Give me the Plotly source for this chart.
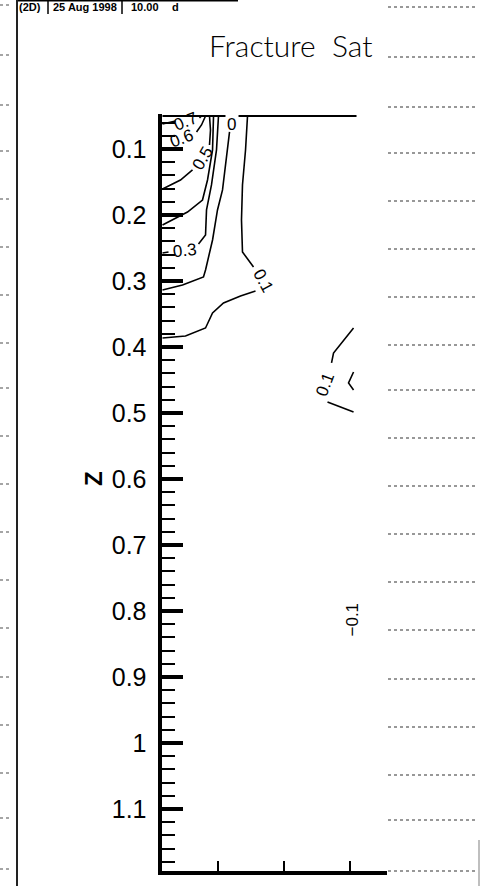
import plotly.graph_objects as go

W, H = 481, 886

# ---------------- data ----------------
y_tick_vals = [0.1, 0.2, 0.3, 0.4, 0.5, 0.6, 0.7, 0.8, 0.9, 1.0, 1.1]
y_tick_text = ["0.1", "0.2", "0.3", "0.4", "0.5", "0.6", "0.7", "0.8", "0.9", "1", "1.1"]
x_tick_vals = [0.1, 0.2, 0.3]

# upper boundary of the contoured region (gap where the "0" label sits)
top_a_x = [0.0165, 0.1118]
top_a_y = [0.05, 0.05]
top_b_x = [0.1315, 0.3100]
top_b_y = [0.05, 0.05]

# level 0.7
c07a_x = [0.0165, 0.0362]
c07a_y = [0.0621, 0.0576]
c07b_x = [0.0725, 0.0755]
c07b_y = [0.0530, 0.0500]

# level 0.6
c06_x = [0.0680, 0.0755, 0.0816]
c06_y = [0.0742, 0.0636, 0.0500]

# level 0.5
c05a_x = [0.0876, 0.0891, 0.0876]
c05a_y = [0.0500, 0.0712, 0.0939]
c05b_x = [0.0619, 0.0437, 0.0256, 0.0165]
c05b_y = [0.1318, 0.1470, 0.1561, 0.1606]

# level 0.4
c04_x = [0.0937, 0.0922, 0.0846, 0.0770, 0.0543, 0.0210, 0.0165]
c04_y = [0.0500, 0.1015, 0.1470, 0.1773, 0.1955, 0.2136, 0.2152]

# level 0.3
c03a_x = [0.1012, 0.0982, 0.0906, 0.0831, 0.0816, 0.0710]
c03a_y = [0.0500, 0.1015, 0.1545, 0.1924, 0.2303, 0.2439]
c03b_x = [0.0165, 0.0256]
c03b_y = [0.2576, 0.2561]

# level 0.2 (label shows "0")
c02_x = [0.1179, 0.1133, 0.1073, 0.0997, 0.0922, 0.0816, 0.0785, 0.0468, 0.0165]
c02_y = [0.0742, 0.1167, 0.1621, 0.1924, 0.2379, 0.2833, 0.2939, 0.3061, 0.3136]

# level 0.1 (left)
c01a_x = [0.1451, 0.1421, 0.1375, 0.1360, 0.1375, 0.1542]
c01a_y = [0.0500, 0.1015, 0.1545, 0.2076, 0.2561, 0.2788]
c01b_x = [0.1572, 0.1345, 0.1088, 0.0922, 0.0816, 0.0513, 0.0165]
c01b_y = [0.3152, 0.3227, 0.3333, 0.3485, 0.3712, 0.3833, 0.3864]

# level 0.1 (right)
c01c_x = [0.3055, 0.2752, 0.2722]
c01c_y = [0.3712, 0.4091, 0.4242]
c01d_x = [0.2661, 0.3055]
c01d_y = [0.4833, 0.4985]
c01e_x = [0.3055, 0.2979, 0.3055]
c01e_y = [0.4379, 0.4545, 0.4652]

# contour labels
lab_text = ["0.7", "0.6", "0.5", "0.3", "0", "0.1", "0.1", "\u22120.1"]
lab_x = [0.0520, 0.0453, 0.0785, 0.0498, 0.1209, 0.1680, 0.2631, 0.3040]
lab_y = [0.0591, 0.0848, 0.1136, 0.2545, 0.0636, 0.3000, 0.4576, 0.8136]
lab_angle = [-22, -20, -60, -6, 0, 62, -70, -90]

header_text = ["(2D)", "25 Aug 1998", "10.00", "d"]
title_text = "Fracture  Sat"
axis_title = "Z"

# ---------------- figure ----------------
fig = go.Figure()

segments = [
    (top_a_x, top_a_y, 2.0), (top_b_x, top_b_y, 2.0),
    (c07a_x, c07a_y, 1.6), (c07b_x, c07b_y, 1.6),
    (c06_x, c06_y, 1.6),
    (c05a_x, c05a_y, 1.6), (c05b_x, c05b_y, 1.6),
    (c04_x, c04_y, 1.6),
    (c03a_x, c03a_y, 1.6), (c03b_x, c03b_y, 1.6),
    (c02_x, c02_y, 1.6),
    (c01a_x, c01a_y, 1.6), (c01b_x, c01b_y, 1.6),
    (c01c_x, c01c_y, 1.6), (c01d_x, c01d_y, 1.6), (c01e_x, c01e_y, 1.6),
]
for xs, ys, w in segments:
    fig.add_trace(go.Scatter(x=xs, y=ys, mode="lines",
                             line=dict(color="black", width=w),
                             hoverinfo="skip", showlegend=False))

annotations = []
for t, x, y, a in zip(lab_text, lab_x, lab_y, lab_angle):
    annotations.append(dict(text=t, x=x, y=y, xref="x", yref="y", showarrow=False,
                            textangle=a, xanchor="center", yanchor="middle",
                            font=dict(family="Liberation Sans, Arial, sans-serif",
                                      size=17, color="black")))


def px(xp):
    return xp / W


def py(yp):
    return 1 - yp / H


# header
header_pos = [30, 85, 145, 175]
for t, xc in zip(header_text, header_pos):
    annotations.append(dict(text="<b>%s</b>" % t, x=px(xc), y=py(7), xref="paper", yref="paper",
                            showarrow=False, xanchor="center", yanchor="middle",
                            font=dict(family="Liberation Sans, Arial, sans-serif", size=11,
                                      color="black")))

# title (hand written in the original)
annotations.append(dict(text=title_text, x=px(290), y=py(45), xref="paper", yref="paper",
                        showarrow=False, xanchor="center", yanchor="middle",
                        font=dict(family="Lato, DejaVu Sans, sans-serif", size=30,
                                  color="black", weight=300)))

# axis title
annotations.append(dict(text="<b>%s</b>" % axis_title, x=px(94), y=py(479), xref="paper",
                        yref="paper", showarrow=False, textangle=-90,
                        xanchor="center", yanchor="middle",
                        font=dict(family="Liberation Sans, Arial, sans-serif", size=24,
                                  color="black")))

shapes = []
# header frame
for xs in [17, 48, 122]:
    shapes.append(dict(type="line", xref="paper", yref="paper", x0=px(xs), x1=px(xs),
                       y0=py(0), y1=py(14), line=dict(color="black", width=1.5)))
shapes.append(dict(type="line", xref="paper", yref="paper", x0=px(17), x1=px(238),
                   y0=py(0.8), y1=py(0.8), line=dict(color="black", width=1.5)))
# page edge (scan)
shapes.append(dict(type="line", xref="paper", yref="paper", x0=px(17), x1=px(17),
                   y0=py(0), y1=py(886), line=dict(color="#222", width=2)))
shapes.append(dict(type="line", xref="paper", yref="paper", x0=px(479), x1=px(479),
                   y0=py(840), y1=py(886), line=dict(color="#aaa", width=1.5)))
scan_marks_y = [7, 57, 107, 153, 201, 249, 297, 345, 390, 438, 486, 534, 582,
                630, 679, 727, 775, 820, 871]
for ym in scan_marks_y:
    shapes.append(dict(type="line", xref="paper", yref="paper", x0=px(388), x1=px(476),
                       y0=py(ym), y1=py(ym), line=dict(color="#777", width=1.5, dash="dot")))
    shapes.append(dict(type="line", xref="paper", yref="paper", x0=px(0), x1=px(12),
                       y0=py(ym - 2), y1=py(ym - 2), line=dict(color="#888", width=1.5, dash="dot")))

fig.update_layout(
    width=W, height=H,
    margin=dict(l=0, r=0, t=0, b=0, pad=0),
    paper_bgcolor="white", plot_bgcolor="white",
    showlegend=False,
    annotations=annotations,
    shapes=shapes,
    xaxis=dict(domain=[161.5 / W, 387 / W], range=[0.015, 0.3561],
               showgrid=False, zeroline=False, showline=True, linecolor="black", linewidth=4,
               ticks="inside", ticklen=10, tickwidth=1.5, tickcolor="black",
               tickvals=x_tick_vals, showticklabels=False),
    yaxis=dict(domain=[1 - 871 / H, 1 - 114 / H], range=[1.194, 0.047],
               showgrid=False, zeroline=False, showline=True, linecolor="black", linewidth=4,
               ticks="inside", ticklen=21, tickwidth=4, tickcolor="black",
               tickvals=y_tick_vals, ticktext=y_tick_text, ticklabelstandoff=6,
               tickfont=dict(family="Liberation Sans, Arial, sans-serif", size=25, color="black"),
               minor=dict(dtick=0.02, tick0=0, ticks="inside", ticklen=13, tickwidth=1.5,
                          tickcolor="black", showgrid=False)),
)

fig.write_html("out.html", config={"displayModeBar": False},
               post_script="document.body.style.margin='0px';")
